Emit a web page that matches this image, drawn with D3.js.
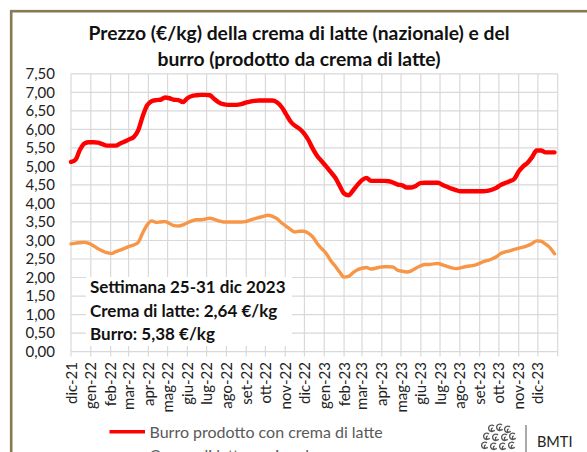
<!DOCTYPE html>
<html>
<head>
<meta charset="utf-8">
<script src="https://cdn.jsdelivr.net/npm/d3@7"></script>
<style>
  body { margin: 0; background: #fff; }
  text { font-family: Lato, "Open Sans", sans-serif; }
</style>
</head>
<body>
<svg id="chart" width="587" height="452"></svg>
<script>
// weekly prices, first week 1 dic 2021, last week 25-31 dic 2023
const firstWeek = '2021-12-01';
const burro = [
  5.12, 5.18, 5.45, 5.62, 5.65, 5.65, 5.64, 5.60, 5.56, 5.56,
  5.56, 5.62, 5.67, 5.73, 5.79, 5.97, 6.35, 6.65, 6.76, 6.79,
  6.80, 6.86, 6.84, 6.80, 6.79, 6.74, 6.84, 6.90, 6.92, 6.93,
  6.93, 6.92, 6.82, 6.73, 6.68, 6.66, 6.66, 6.66, 6.68, 6.72,
  6.75, 6.77, 6.78, 6.78, 6.78, 6.78, 6.73, 6.61, 6.42, 6.22,
  6.10, 6.02, 5.90, 5.72, 5.48, 5.28, 5.14, 5.00, 4.85, 4.70,
  4.48, 4.27, 4.22, 4.35, 4.50, 4.63, 4.69, 4.61, 4.61, 4.61,
  4.61, 4.60, 4.56, 4.51, 4.49, 4.43, 4.43, 4.47, 4.55, 4.56,
  4.56, 4.56, 4.56, 4.50, 4.45, 4.40, 4.36, 4.33, 4.33, 4.33,
  4.33, 4.33, 4.33, 4.34, 4.37, 4.42, 4.50, 4.55, 4.60, 4.66,
  4.86, 5.00, 5.10, 5.25, 5.43, 5.43, 5.38, 5.38, 5.38
];
const crema = [
  2.91, 2.93, 2.94, 2.95, 2.92, 2.86, 2.78, 2.72, 2.67, 2.65,
  2.70, 2.74, 2.79, 2.84, 2.88, 2.95, 3.20, 3.42, 3.53, 3.49,
  3.50, 3.51, 3.46, 3.40, 3.39, 3.42, 3.48, 3.53, 3.56, 3.56,
  3.58, 3.60, 3.57, 3.53, 3.50, 3.50, 3.50, 3.50, 3.50, 3.51,
  3.55, 3.59, 3.62, 3.65, 3.68, 3.65, 3.59, 3.48, 3.39, 3.30,
  3.23, 3.25, 3.25, 3.20, 3.10, 2.92, 2.78, 2.65, 2.46, 2.31,
  2.15, 2.01, 2.03, 2.13, 2.21, 2.25, 2.27, 2.23, 2.25, 2.28,
  2.29, 2.29, 2.28, 2.19, 2.17, 2.15, 2.18, 2.25, 2.31, 2.35,
  2.35, 2.37, 2.38, 2.34, 2.30, 2.26, 2.24, 2.26, 2.29, 2.31,
  2.33, 2.37, 2.42, 2.46, 2.50, 2.56, 2.65, 2.69, 2.72, 2.76,
  2.79, 2.82, 2.86, 2.92, 2.99, 2.98, 2.90, 2.80, 2.64
];
const monthLabels = [
  'dic-21', 'gen-22', 'feb-22', 'mar-22', 'apr-22', 'mag-22', 'giu-22', 'lug-22', 'ago-22',
  'set-22', 'ott-22', 'nov-22', 'dic-22', 'gen-23', 'feb-23', 'mar-23', 'apr-23', 'mag-23',
  'giu-23', 'lug-23', 'ago-23', 'set-23', 'ott-23', 'nov-23', 'dic-23'
];
const yTicks = [0, 0.5, 1, 1.5, 2, 2.5, 3, 3.5, 4, 4.5, 5, 5.5, 6, 6.5, 7, 7.5];
const titleLines = [
  'Prezzo (€/kg) della crema di latte (nazionale) e del',
  'burro (prodotto da crema di latte)'
];
const noteLines = ['Settimana 25-31 dic 2023', 'Crema di latte: 2,64 €/kg', 'Burro: 5,38 €/kg'];
const seriesNames = ['Burro prodotto con crema di latte', 'Crema di latte nazionale'];
const seriesColors = ['#ff0000', '#f79646'];

const svg = d3.select('#chart');
const fmt = d3.format('.2f');
const comma = v => fmt(v).replace('.', ',');

// outer frame
svg.append('rect')
  .attr('x', 11.2).attr('y', 11.2).attr('width', 620).attr('height', 500)
  .attr('fill', 'none').attr('stroke', '#857a52').attr('stroke-width', 2.6);

// title
svg.append('g').selectAll('text').data(titleLines).join('text')
  .attr('x', 299).attr('y', (d, i) => 39.5 + i * 26)
  .attr('text-anchor', 'middle')
  .attr('font-size', 19.3).attr('font-weight', 700).attr('fill', '#111')
  .text(d => d);

const start = new Date(firstWeek + 'T00:00:00Z');
const dates = burro.map((d, i) => d3.utcDay.offset(start, i * 7));
const x = d3.scaleUtc()
  .domain([start, new Date('2024-01-01T00:00:00Z')])
  .range([71, 557.7]);
const y = d3.scaleLinear().domain([0, 7.5]).range([351.6, 73.8]);
const months = d3.utcMonth.range(start, new Date('2024-01-02T00:00:00Z'));

// grid
const grid = svg.append('g').attr('stroke', '#d9d9d9').attr('stroke-width', 1.2);
grid.selectAll('.h').data(yTicks).join('line')
  .attr('x1', 71).attr('x2', 557.7)
  .attr('y1', d => y(d)).attr('y2', d => y(d));
grid.selectAll('.v').data(months).join('line')
  .attr('x1', d => x(d)).attr('x2', d => x(d))
  .attr('y1', y(7.5)).attr('y2', y(0) + 5);

// y axis labels
svg.append('g').selectAll('text').data(yTicks).join('text')
  .attr('x', 55).attr('y', d => y(d) + 5.3)
  .attr('text-anchor', 'end').attr('font-size', 15).attr('fill', '#222')
  .text(comma);

// x axis labels
svg.append('g').selectAll('text').data(monthLabels).join('text')
  .attr('transform', (d, i) => `translate(${x(months[i]) + 5.5},362) rotate(-90)`)
  .attr('text-anchor', 'end').attr('font-size', 15).attr('fill', '#222')
  .text(d => d);

// lines
const line = d3.line().x((d, i) => x(dates[i])).y(d => y(d)).curve(d3.curveMonotoneX);
svg.append('path').datum(crema)
  .attr('d', line).attr('fill', 'none')
  .attr('stroke', seriesColors[1]).attr('stroke-width', 3.4)
  .attr('stroke-linejoin', 'round').attr('stroke-linecap', 'round');
svg.append('path').datum(burro)
  .attr('d', line).attr('fill', 'none')
  .attr('stroke', seriesColors[0]).attr('stroke-width', 4.4)
  .attr('stroke-linejoin', 'round').attr('stroke-linecap', 'round');

// note box
svg.append('rect').attr('x', 86).attr('y', 277).attr('width', 206).attr('height', 69).attr('fill', '#fff');
svg.append('g').selectAll('text').data(noteLines).join('text')
  .attr('x', 90).attr('y', (d, i) => 293 + i * 23.5)
  .attr('font-size', 17).attr('font-weight', 700).attr('fill', '#111')
  .text(d => d);

// legend
const leg = svg.append('g').selectAll('g').data(seriesNames).join('g')
  .attr('transform', (d, i) => `translate(0,${i * 23})`);
leg.append('line')
  .attr('x1', 109.5).attr('x2', 145).attr('y1', 431.7).attr('y2', 431.7)
  .attr('stroke', (d, i) => seriesColors[i]).attr('stroke-width', 3.6);
leg.append('text')
  .attr('x', 149.5).attr('y', 437.5)
  .attr('font-size', 16).attr('fill', '#595959')
  .text(d => d);

// BMTI logo
const logo = svg.append('g').attr('fill', 'none').attr('stroke', '#555').attr('stroke-width', 1.3);
const curls = [[491, 428], [499, 427], [507, 429], [486, 436], [495, 437], [504, 437], [512, 436], [484, 445], [493, 446], [502, 446], [511, 445]];
logo.selectAll('path').data(curls).join('path')
  .attr('d', d => `M${d[0] + 3},${d[1] - 2} a3.2,3.2 0 1 0 0.5,4 a1.6,1.6 0 1 1 -1.8,-2`);
svg.append('line').attr('x1', 526).attr('x2', 526).attr('y1', 425).attr('y2', 452)
  .attr('stroke', '#555').attr('stroke-width', 1);
svg.append('text').attr('x', 537).attr('y', 447)
  .attr('font-size', 14.5).attr('fill', '#222').text('BMTI');
</script>
</body>
</html>
